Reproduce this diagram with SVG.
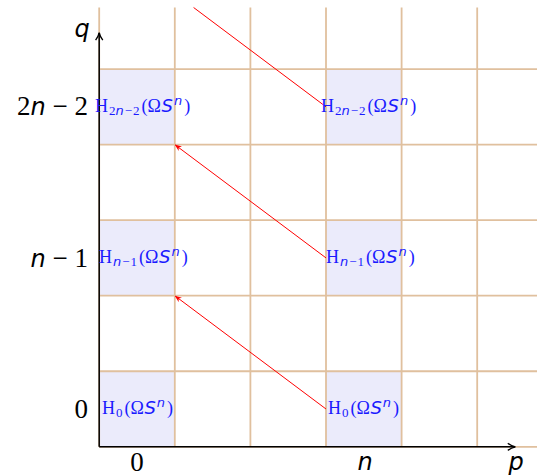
<svg xmlns="http://www.w3.org/2000/svg" width="537" height="476" viewBox="0 0 537 476">
<defs>
<style>
.grid{stroke:#e0c09e;stroke-width:1.8;fill:none}
.cell{fill:#ebebfb;stroke:none}
.axis{stroke:#000;stroke-width:1.5;fill:none}
.red{stroke:#ff0000;stroke-width:1;fill:none}
.nd{font-family:"Liberation Serif",serif;font-size:18px;fill:#1a1aff}
.it{font-family:"DejaVu Sans",sans-serif;font-style:italic}
.sb{font-size:13px}
.lbl{font-family:"Liberation Serif",serif;font-size:27px;fill:#000}
.lit{font-family:"DejaVu Sans",sans-serif;font-style:italic;font-size:24px}
</style>
<marker id="ah" viewBox="0 0 10 10" refX="9" refY="5" markerWidth="7" markerHeight="7" orient="auto" markerUnits="userSpaceOnUse">
<path d="M0,1 L10,5 L0,9 L3,5 Z" fill="#ff0000"/>
</marker>
<marker id="ak" viewBox="0 0 10 10" refX="9" refY="5" markerWidth="9" markerHeight="9" orient="auto" markerUnits="userSpaceOnUse">
<path d="M1,1 Q5,4 9.5,5 Q5,6 1,9" fill="none" stroke="#000" stroke-width="1.5"/>
</marker>
</defs>
<g id="cells">
<rect class="cell" x="99.2" y="371.25" width="75.6" height="75.55"/>
<rect class="cell" x="326" y="371.25" width="75.6" height="75.55"/>
<rect class="cell" x="99.2" y="220.15" width="75.6" height="75.55"/>
<rect class="cell" x="326" y="220.15" width="75.6" height="75.55"/>
<rect class="cell" x="99.2" y="69.05" width="75.6" height="75.55"/>
<rect class="cell" x="326" y="69.05" width="75.6" height="75.55"/>
</g>
<g id="grid">
<path class="grid" d="M99.2,7.5V446.8 M174.8,7.5V446.8 M250.4,7.5V446.8 M326,7.5V446.8 M401.6,7.5V446.8 M477.2,7.5V446.8 M99.2,446.8H537 M99.2,371.25H537 M99.2,295.7H537 M99.2,220.15H537 M99.2,144.6H537 M99.2,69.05H537"/>
</g>
<g id="axes">
<path class="axis" d="M99.2,446.8V33" marker-end="url(#ak)"/>
<path class="axis" d="M99.2,446.8H515" marker-end="url(#ak)"/>
</g>
<g id="labels">
<text class="lbl lit" x="82" y="37" text-anchor="middle">q</text>
<text class="lbl lit" x="516" y="470" text-anchor="middle">p</text>
<text class="lbl" x="137" y="471" text-anchor="middle">0</text>
<text class="lbl lit" x="365" y="470" text-anchor="middle">n</text>
<text class="lbl" x="88" y="418" text-anchor="end">0</text>
<text class="lbl" x="88" y="267" text-anchor="end"><tspan class="lit">n</tspan> − 1</text>
<text class="lbl" x="88" y="115" text-anchor="end">2<tspan class="lit">n</tspan> − 2</text>
</g>
<g id="connectors">
<path class="red" d="M326,409 L175.3,296.1" marker-end="url(#ah)"/>
<path class="red" d="M326,257.9 L175.3,145" marker-end="url(#ah)"/>
<path class="red" d="M326,106.8 L193.6,7.5"/>
</g>
<g id="node-h0-left">
<text class="nd" x="102" y="414">H<tspan class="sb" dx="1" dy="3">0</tspan><tspan dx="2" dy="-3">(Ω</tspan><tspan class="it" dx="0.5">S</tspan><tspan class="it sb" dx="1" dy="-7">n</tspan><tspan dx="2" dy="7">)</tspan></text>
</g>
<g id="node-h0-right">
<text class="nd" x="328" y="414">H<tspan class="sb" dx="1" dy="3">0</tspan><tspan dx="2" dy="-3">(Ω</tspan><tspan class="it" dx="0.5">S</tspan><tspan class="it sb" dx="1" dy="-7">n</tspan><tspan dx="2" dy="7">)</tspan></text>
</g>
<g id="node-hn1-left">
<text class="nd" x="99" y="263">H<tspan class="it sb" dx="1" dy="3">n</tspan><tspan class="sb" dx="1">−</tspan><tspan class="sb" dx="1">1</tspan><tspan dx="2" dy="-3">(Ω</tspan><tspan class="it" dx="0.5">S</tspan><tspan class="it sb" dx="1" dy="-7">n</tspan><tspan dx="2" dy="7">)</tspan></text>
</g>
<g id="node-hn1-right">
<text class="nd" x="326" y="263">H<tspan class="it sb" dx="1" dy="3">n</tspan><tspan class="sb" dx="1">−</tspan><tspan class="sb" dx="1">1</tspan><tspan dx="2" dy="-3">(Ω</tspan><tspan class="it" dx="0.5">S</tspan><tspan class="it sb" dx="1" dy="-7">n</tspan><tspan dx="2" dy="7">)</tspan></text>
</g>
<g id="node-h2n2-left">
<text class="nd" x="95" y="112">H<tspan class="sb" dx="1" dy="3">2</tspan><tspan class="it sb">n</tspan><tspan class="sb" dx="1">−</tspan><tspan class="sb" dx="1">2</tspan><tspan dx="2" dy="-3">(Ω</tspan><tspan class="it" dx="0.5">S</tspan><tspan class="it sb" dx="1" dy="-7">n</tspan><tspan dx="2" dy="7">)</tspan></text>
</g>
<g id="node-h2n2-right">
<text class="nd" x="321" y="112">H<tspan class="sb" dx="1" dy="3">2</tspan><tspan class="it sb">n</tspan><tspan class="sb" dx="1">−</tspan><tspan class="sb" dx="1">2</tspan><tspan dx="2" dy="-3">(Ω</tspan><tspan class="it" dx="0.5">S</tspan><tspan class="it sb" dx="1" dy="-7">n</tspan><tspan dx="2" dy="7">)</tspan></text>
</g>
</svg>
